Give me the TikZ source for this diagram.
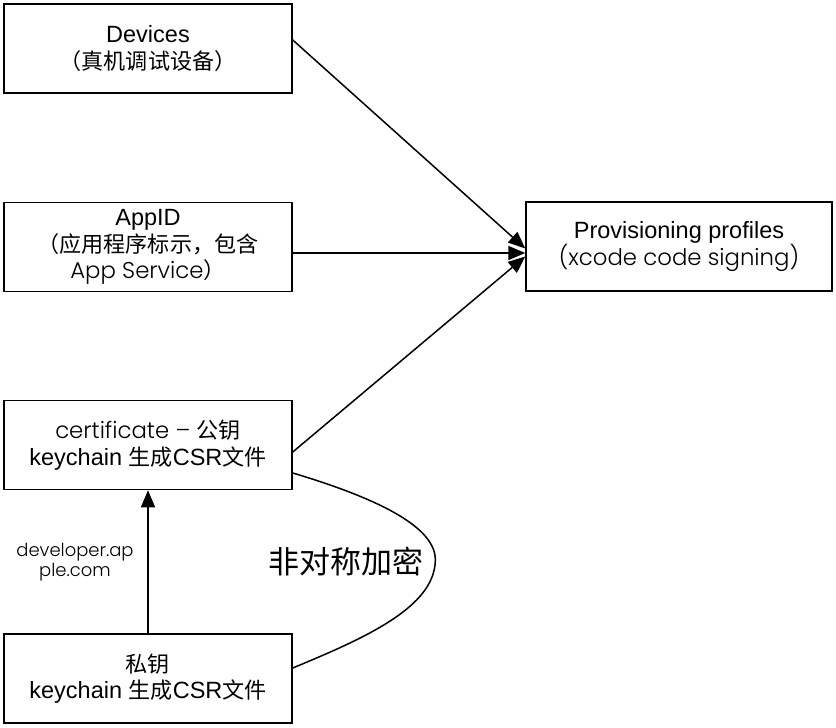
\documentclass[tikz,border=0pt]{standalone}
\usepackage{fontspec}
\setmainfont{Liberation Sans}
\newfontfamily\cjk{Noto Sans CJK SC}[Scale=0.94]
\newfontfamily\geo{Poppins Light}[Scale=0.97]
\usetikzlibrary{arrows.meta}
\begin{document}
\begin{tikzpicture}[x=1pt,y=-1pt,
  box/.style={draw,line width=1.5pt,minimum width=288pt,minimum height=89pt,align=center,inner sep=0pt,font=\fontsize{23.5}{26.5}\selectfont},
  conn/.style={line width=1.5pt,-{Triangle[length=17pt,width=14pt]}},
  plain/.style={line width=1.5pt}]
\useasboundingbox (0,0) rectangle (836,728);
\node[box] (dev) at (148,48.5) {Devices\\{\cjk （真机调试设备）}};
\node[box] (app) at (148,247) {AppID\\{\cjk （应用程序标示，包含}\\{\geo App Service}{\cjk ）}};
\node[box] (cert) at (148,445) {{\geo certificate – }{\cjk 公钥}\\keychain {\cjk 生成}CSR{\cjk 文件}};
\node[box] (priv) at (148,678.5) {{\cjk 私钥}\\keychain {\cjk 生成}CSR{\cjk 文件}};
\node[box,minimum width=306pt] (prov) at (679,246.5) {Provisioning profiles\\{\geo (xcode code signing)}};
\coordinate (t1) at ([yshift=-2pt]prov.west);
\coordinate (t2) at ([yshift=-6.5pt]prov.west);
\coordinate (t3) at ([yshift=-10pt]prov.west);
\draw[conn] ([yshift=8.5pt]dev.east) -- (t1);
\draw[conn] ([yshift=-6pt]app.east) -- (t2);
\draw[conn] ([yshift=-7pt]cert.east) -- (t3);
\draw[conn] (priv.north) -- (cert.south);
\coordinate (bulge) at (435,565);
\draw[plain] ([yshift=-28pt]cert.east) .. controls (400,505) and (440,535) .. (bulge)
  .. controls (430,610) and (360,640) .. ([yshift=10.5pt]priv.east);
\node[font=\fontsize{33}{36}\selectfont\cjk] (lbl) at (346,562) {非对称加密};
\node[align=center,font=\geo\fontsize{18.5}{20}\selectfont] (url) at (75,562) {developer.ap\\ple.com};
\end{tikzpicture}
\end{document}
